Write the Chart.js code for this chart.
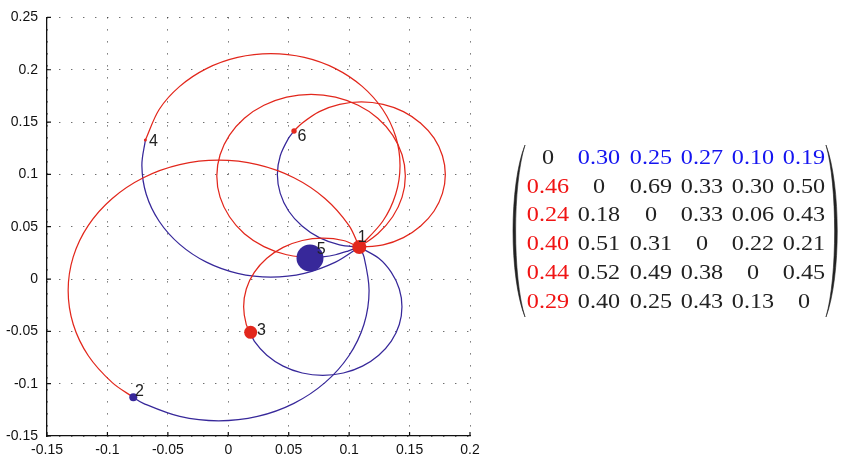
<!DOCTYPE html>
<html>
<head>
<meta charset="utf-8">
<script src="https://cdn.jsdelivr.net/npm/chart.js@4.4.0/dist/chart.umd.min.js"></script>
<style>
  body { margin: 0; background: #fff; }
  .wrap { position: relative; width: 843px; height: 460px; overflow: hidden; }
  .chart2 { position: absolute; left: 0; top: 0; }
  .paren { position: absolute; left: 0; top: 0; }
  .cell {
    position: absolute;
    font-family: 'Liberation Serif', serif;
    font-size: 21px;
    line-height: 1;
    color: #222;
    white-space: nowrap;
    transform: translate(-50%, -50%) scaleX(1.15);
  }
</style>
</head>
<body>
<div class="wrap">
  <canvas class="chart2" width="843" height="460"></canvas>
  <svg class="paren" width="843" height="460">
    <path d="M525,145 C509,185 509,277 525,317 C512.5,277 512.5,185 525,145 Z" fill="#222" stroke="#222" stroke-width="0.6"/>
    <path d="M826,145 C841,185 841,277 826,317 C837.5,277 837.5,185 826,145 Z" fill="#222" stroke="#222" stroke-width="0.6"/>
  </svg>
  <div class="matrix"></div>
</div>
<script>
const xTickValues = [-0.15, -0.1, -0.05, 0, 0.05, 0.1, 0.15, 0.2];
const xTickLabels = ['-0.15', '-0.1', '-0.05', '0', '0.05', '0.1', '0.15', '0.2'];
const yTickValues = [-0.15, -0.1, -0.05, 0, 0.05, 0.1, 0.15, 0.2, 0.25];
const yTickLabels = ['-0.15', '-0.1', '-0.05', '0', '0.05', '0.1', '0.15', '0.2', '0.25'];

// nodes 1..6
const nodeNames = ['1', '2', '3', '4', '5', '6'];
const nodeX = [0.1084, -0.0786, 0.0185, -0.0686, 0.0676, 0.0544];
const nodeY = [0.0305, -0.113, -0.0509, 0.1328, 0.0201, 0.1415];

// each pair (1, j) is one loop: red half and blue half, both from node j to node 1
const red2 = [[-0.0786, -0.113], [-0.0960, -0.0990], [-0.1158, -0.0733], [-0.1283, -0.0432], [-0.1325, -0.011], [-0.1283, 0.0212], [-0.1158, 0.0513], [-0.0960, 0.0770], [-0.0703, 0.0968], [-0.0402, 0.1093], [-0.008, 0.1135], [0.0242, 0.1093], [0.0543, 0.0968], [0.0800, 0.0770], [0.0998, 0.0513], [0.1084, 0.0305]];
const blue2 = [[-0.0786, -0.113], [-0.0703, -0.1188], [-0.0402, -0.1313], [-0.008, -0.1355], [0.0242, -0.1313], [0.0543, -0.1188], [0.0800, -0.0990], [0.0998, -0.0733], [0.1123, -0.0432], [0.1165, -0.011], [0.1123, 0.0212], [0.1084, 0.0305]];
const red3 = [[0.0185, -0.0509], [0.0149, -0.0435], [0.0127, -0.0265], [0.0149, -0.0095], [0.0215, 0.0063], [0.0319, 0.0198], [0.0454, 0.0302], [0.0612, 0.0368], [0.0782, 0.0390], [0.0952, 0.0368], [0.1084, 0.0305]];
const blue3 = [[0.0185, -0.0509], [0.0215, -0.0593], [0.0319, -0.0728], [0.0454, -0.0832], [0.0612, -0.0898], [0.0782, -0.092], [0.0952, -0.0898], [0.1110, -0.0832], [0.1245, -0.0728], [0.1349, -0.0593], [0.1415, -0.0435], [0.1437, -0.0265], [0.1415, -0.0095], [0.1349, 0.0063], [0.1245, 0.0198], [0.1084, 0.0305]];
const red4 = [[-0.0686, 0.1328], [-0.0572, 0.1620], [-0.0402, 0.1841], [-0.0181, 0.2011], [0.0077, 0.2118], [0.0353, 0.2154], [0.0629, 0.2118], [0.0887, 0.2011], [0.1108, 0.1841], [0.1278, 0.1620], [0.1385, 0.1362], [0.1421, 0.1086], [0.1385, 0.0810], [0.1278, 0.0552], [0.1084, 0.0305]];
const blue4 = [[-0.0686, 0.1328], [-0.0715, 0.1086], [-0.0679, 0.0810], [-0.0572, 0.0552], [-0.0402, 0.0331], [-0.0181, 0.0161], [0.0077, 0.0054], [0.0353, 0.0018], [0.0629, 0.0054], [0.0887, 0.0161], [0.1084, 0.0305]];
const red5 = [[0.0676, 0.0201], [0.0483, 0.0232], [0.0295, 0.0310], [0.0133, 0.0433], [0.0010, 0.0595], [-0.0068, 0.0783], [-0.0095, 0.0985], [-0.0068, 0.1187], [0.0010, 0.1375], [0.0133, 0.1537], [0.0295, 0.1660], [0.0483, 0.1738], [0.0685, 0.1765], [0.0887, 0.1738], [0.1075, 0.1660], [0.1237, 0.1537], [0.1360, 0.1375], [0.1438, 0.1187], [0.1465, 0.0985], [0.1438, 0.0783], [0.1360, 0.0595], [0.1237, 0.0433], [0.1084, 0.0305]];
const blue5 = [[0.0676, 0.0201], [0.0780, 0.0211], [0.0887, 0.0232], [0.0990, 0.0267], [0.1084, 0.0305]];
const red6 = [[0.0544, 0.1415], [0.0610, 0.1489], [0.0753, 0.1600], [0.0921, 0.1669], [0.1101, 0.1693], [0.1281, 0.1669], [0.1449, 0.1600], [0.1592, 0.1489], [0.1703, 0.1346], [0.1772, 0.1178], [0.1796, 0.0998], [0.1772, 0.0818], [0.1703, 0.0650], [0.1592, 0.0507], [0.1449, 0.0396], [0.1281, 0.0327], [0.1084, 0.0305]];
const blue6 = [[0.0544, 0.1415], [0.0499, 0.1346], [0.0430, 0.1178], [0.0406, 0.0998], [0.0430, 0.0818], [0.0499, 0.0650], [0.0610, 0.0507], [0.0753, 0.0396], [0.0921, 0.0327], [0.1084, 0.0305]];

const matrixRows = [
  ['0', '0.30', '0.25', '0.27', '0.10', '0.19'],
  ['0.46', '0', '0.69', '0.33', '0.30', '0.50'],
  ['0.24', '0.18', '0', '0.33', '0.06', '0.43'],
  ['0.40', '0.51', '0.31', '0', '0.22', '0.21'],
  ['0.44', '0.52', '0.49', '0.38', '0', '0.45'],
  ['0.29', '0.40', '0.25', '0.43', '0.13', '0'],
];

const RED = '#e2271c';
const BLUE = '#37289a';

const toXY = (arr) => arr.map(([x, y]) => ({ x, y }));

function arc(points, color) {
  return {
    data: toXY(points),
    showLine: true,
    borderColor: color,
    borderWidth: 1.25,
    pointRadius: 0,
    pointHoverRadius: 0,
    tension: 0.33,
    fill: false,
    order: 1,
  };
}

const data = {
  datasets: [
    {
      data: nodeX.map((x, i) => ({ x, y: nodeY[i] })),
      pointRadius: [7, 4, 6.5, 1.5, 13.5, 2.7],
      pointBackgroundColor: [RED, BLUE, RED, RED, BLUE, RED],
      pointBorderWidth: 0,
      pointHoverRadius: 0,
      showLine: false,
      order: 0,
    },
    arc(red2, RED), arc(blue2, BLUE),
    arc(red3, RED), arc(blue3, BLUE),
    arc(red4, RED), arc(blue4, BLUE),
    arc(red5, RED), arc(blue5, BLUE),
    arc(red6, RED), arc(blue6, BLUE),
  ]
};

// node numbers next to the dots
const labelShift = [[-1.5, -5], [1.7, -1.7], [6.3, 3], [3.6, 5.6], [6.7, -3.7], [3.4, 10]];
const nodeLabels = {
  id: 'nodeLabels',
  afterDatasetsDraw(chart) {
    const { ctx, scales: { x, y } } = chart;
    ctx.save();
    ctx.font = '16px "Liberation Sans"';
    ctx.fillStyle = '#222';
    ctx.textAlign = 'left';
    ctx.textBaseline = 'alphabetic';
    nodeNames.forEach((name, i) => {
      ctx.fillText(name, x.getPixelForValue(nodeX[i]) + labelShift[i][0], y.getPixelForValue(nodeY[i]) + labelShift[i][1]);
    });
    ctx.restore();
  }
};

// short tick marks pointing into the plot
const innerTicks = {
  id: 'innerTicks',
  afterDraw(chart) {
    const { ctx, chartArea: a, scales: { x, y } } = chart;
    ctx.save();
    ctx.strokeStyle = '#111';
    ctx.lineWidth = 1.2;
    ctx.beginPath();
    x.ticks.forEach((t) => {
      const px = x.getPixelForValue(t.value);
      ctx.moveTo(px, a.bottom);
      ctx.lineTo(px, a.bottom - 4);
    });
    y.ticks.forEach((t) => {
      const py = y.getPixelForValue(t.value);
      ctx.moveTo(a.left, py);
      ctx.lineTo(a.left + 4, py);
    });
    ctx.stroke();
    ctx.restore();
  }
};

const config = {
  type: 'scatter',
  data,
  plugins: [nodeLabels, innerTicks],
  options: {
    responsive: false,
    animation: false,
    devicePixelRatio: 1,
    layout: { padding: { left: 0, right: 373, top: 13, bottom: 0 } },
    plugins: {
      legend: { display: false },
      tooltip: { enabled: false },
    },
    scales: {
      x: {
        type: 'linear',
        min: -0.15,
        max: 0.2,
        afterBuildTicks: (s) => { s.ticks = xTickValues.map((v) => ({ value: v })); },
        afterFit: (s) => { s.height = 24; },
        grid: { color: '#333', lineWidth: 1, drawTicks: false },
        border: { display: true, color: '#111', width: 1.3, dash: [1, 11] },
        ticks: {
          autoSkip: false,
          maxRotation: 0,
          padding: 6,
          color: '#111',
          font: { family: 'Liberation Sans', size: 14 },
          callback: (val, index) => xTickLabels[index],
        }
      },
      y: {
        type: 'linear',
        min: -0.15,
        max: 0.25,
        afterBuildTicks: (s) => { s.ticks = yTickValues.map((v) => ({ value: v })); },
        afterFit: (s) => { s.width = 47; },
        grid: { color: '#333', lineWidth: 1, drawTicks: false },
        border: { display: true, color: '#111', width: 1.3, dash: [1, 11] },
        ticks: {
          autoSkip: false,
          padding: 9,
          color: '#111',
          font: { family: 'Liberation Sans', size: 14 },
          callback: (val, index) => yTickLabels[index],
        }
      }
    }
  }
};

const netChart = new Chart(document.querySelector('.chart2'), config);

// matrix on the right
const matrixBox = document.querySelector('.matrix');
matrixRows.forEach((row, r) => {
  row.forEach((txt, c) => {
    const span = document.createElement('span');
    span.className = 'cell';
    span.textContent = txt;
    span.style.left = (548.3 + 51.1 * c) + 'px';
    span.style.top = (156.7 + 28.8 * r) + 'px';
    if (r === 0 && c > 0) span.style.color = '#1414f0';
    if (c === 0 && r > 0) span.style.color = '#f01414';
    matrixBox.appendChild(span);
  });
});
</script>
</body>
</html>
